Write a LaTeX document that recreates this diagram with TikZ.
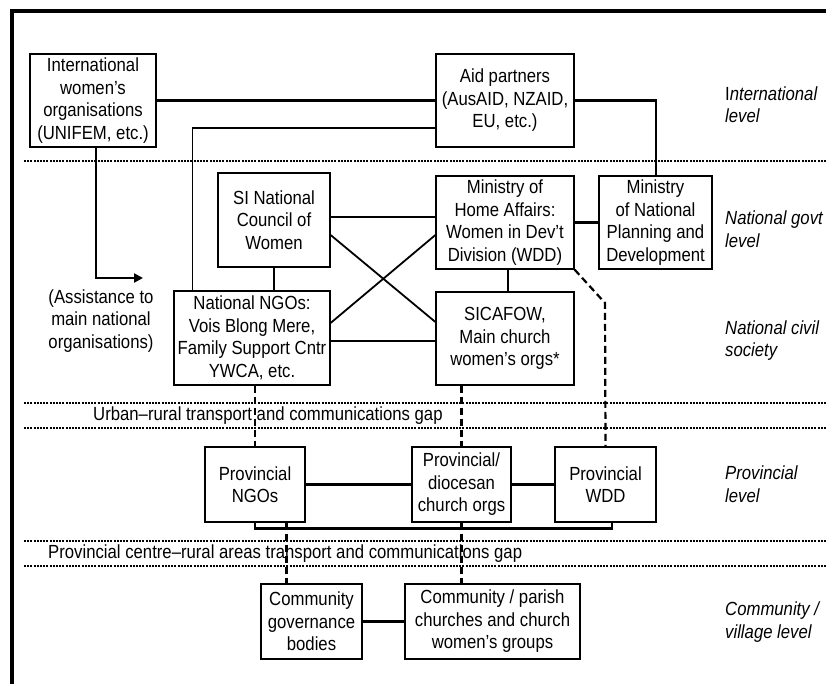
\documentclass[tikz,border=0pt]{standalone}
\usepackage{fontspec}
\setmainfont[FakeStretch=0.88]{Liberation Sans}
\usetikzlibrary{calc,arrows.meta}
\begin{document}
\begin{tikzpicture}[x=1pt,y=-1pt,
  box/.style={draw,line width=1.2pt,inner sep=0pt,align=center,font=\fontsize{19}{22.5}\selectfont},
  conn/.style={line width=2.4pt},
  dashconn/.style={line width=2.2pt,dash pattern=on 7pt off 4pt},
  sep/.style={line width=1.4pt,dash pattern=on 2pt off 1.2pt},
  lvl/.style={anchor=west,align=left,inner sep=0pt,font=\fontsize{19}{22.5}\selectfont\itshape},
  gap/.style={anchor=west,inner sep=0pt,font=\fontsize{19}{22.5}\selectfont}]
\useasboundingbox (0,0) rectangle (826,684);
% frame
\draw[line width=3.5pt] (12,684) -- (12,11) -- (828,11);
% separators
\foreach \yy in {161,403,428,541,566} \draw[sep] (24,\yy) -- (826,\yy);
% boxes
\node[box,minimum width=126,minimum height=93] (iwo) at (93,100.5) {International\\women’s\\organisations\\(UNIFEM, etc.)};
\node[box,minimum width=138,minimum height=93] (aid) at (505,100.5) {Aid partners\\(AusAID, NZAID,\\EU, etc.)};
\node[box,minimum width=112,minimum height=94] (sinc) at (274,220) {SI National\\Council of\\Women};
\node[box,minimum width=138,minimum height=93] (mha) at (505,222.5) {Ministry of\\Home Affairs:\\Women in Dev’t\\Division (WDD)};
\node[box,minimum width=113,minimum height=93] (mnp) at (655.5,222.5) {Ministry\\of National\\Planning and\\Development};
\node[box,minimum width=156,minimum height=94] (nngo) at (252,338) {National NGOs:\\Vois Blong Mere,\\Family Support Cntr\\YWCA, etc.};
\node[box,minimum width=138,minimum height=93] (sica) at (505,338.5) {SICAFOW,\\Main church\\women’s orgs*};
\node[box,minimum width=100,minimum height=75] (pngo) at (255,484.5) {Provincial\\NGOs};
\node[box,minimum width=99,minimum height=75] (pdio) at (461.5,484.5) {Provincial/\\diocesan\\church orgs};
\node[box,minimum width=101,minimum height=75] (pwdd) at (605.5,484.5) {Provincial\\WDD};
\node[box,minimum width=101,minimum height=75] (cgov) at (311.5,621.5) {Community\\governance\\bodies};
\node[box,minimum width=175,minimum height=75] (cpar) at (492.5,621.5) {Community / parish\\churches and church\\women’s groups};
% free text
\node[align=center,inner sep=0pt,font=\fontsize{19}{22.5}\selectfont] (assist) at (101,321) {(Assistance to\\main national\\organisations)};
\node[gap] (gap1) at (93,416) {Urban–rural transport and communications gap};
\node[gap] (gap2) at (48,554) {Provincial centre–rural areas transport and communications gap};
% level labels
\node[lvl] (l1) at (725,104.5) {\upshape I\itshape nternational\\level};
\node[lvl] (l2) at (725,229) {National govt\\level};
\node[lvl] (l3) at (725,340.5) {National civil\\society};
\node[lvl] (l4) at (725,484) {Provincial\\level};
\node[lvl] (l5) at (725,622) {Community /\\village level};
% connectors
\draw[conn] (iwo.east) -- (aid.west);
\draw[conn] (aid.east) -| ($(mnp.north)+(0.5,0)$);
\draw[line width=1.8pt] ($(nngo.north west)+(19,0)$) |- ($(aid.north west)+(0,75)$);
\draw[line width=1.8pt] ($(sinc.east)+(0,-3)$) -- ($(sinc.east -| mha.west)+(0,-3)$);
\draw[conn] (mha.east) -- (mnp.west);
\draw[line width=1.8pt] (sinc.south) -- (sinc.south |- nngo.north);
\draw[conn] ($(mha.south)+(3,0)$) -- ($(sica.north)+(3,0)$);
\draw[line width=1.8pt] ($(sinc.east)+(0,15)$) -- ($(sica.west)+(0,-16.5)$);
\draw[line width=1.8pt] ($(nngo.east)+(0,-15)$) -- ($(mha.west)+(0,12.5)$);
\draw[conn] ($(nngo.east)+(0,3)$) -- ($(sica.west)+(0,2.5)$);
\coordinate (bend) at (605,303);
\draw[dashconn] (mha.south east) -- (bend) -- (pwdd.north);
\draw[dashconn] (pngo.north |- nngo.south) -- (pngo.north);
\draw[dashconn] (pdio.north |- sica.south) -- (pdio.north);
\draw[conn] (pngo.east) -- (pdio.west);
\draw[conn] (pdio.east) -- (pwdd.west);
\draw[conn] (pngo.south) -- ++(0,6) -| ($(pwdd.south)+(6.5,0)$);
\coordinate (cg1) at ($(cgov.north west)+(26,0)$);
\draw[dashconn] (cg1 |- pngo.south) -- (cg1);
\draw[dashconn] (pdio.south) -- (pdio.south |- cpar.north);
\draw[conn] (cgov.east) -- (cpar.west);
\coordinate (arrowend) at (143,278);
\draw[conn,-{Triangle[length=9pt,width=9pt]}] ($(iwo.south)+(3,0)$) |- (arrowend);
\end{tikzpicture}
\end{document}
